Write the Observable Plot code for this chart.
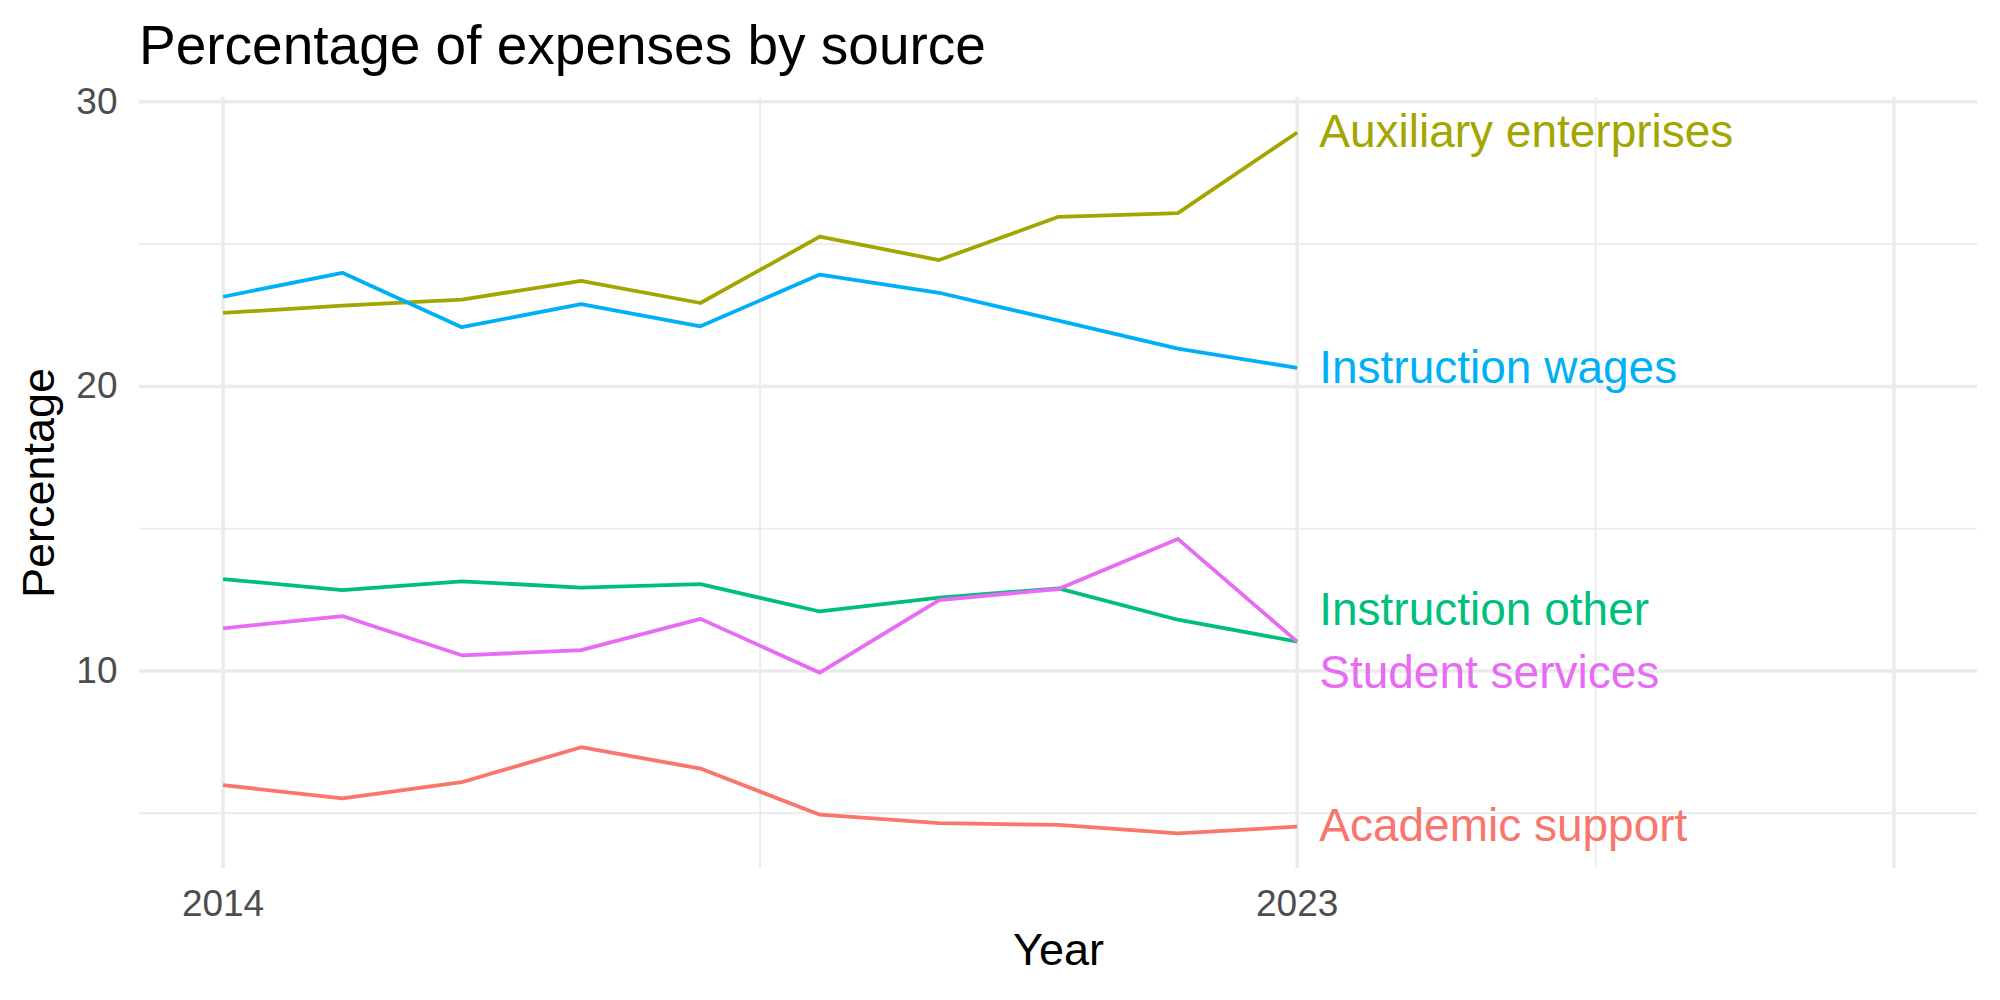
<!DOCTYPE html>
<html>
<head>
<meta charset="utf-8">
<script src="https://cdn.jsdelivr.net/npm/d3@7"></script>
<script src="https://cdn.jsdelivr.net/npm/@observablehq/plot@0.6"></script>
<style>
  html, body { margin: 0; padding: 0; background: #ffffff; }
  #title {
    font-family: "Liberation Sans", Arial, Helvetica, sans-serif;
    font-size: 55px;
    line-height: 55px;
    height: 75px;
    box-sizing: border-box;
    padding-top: 18px;
    padding-left: 139px;
    color: #000000;
    white-space: nowrap;
    overflow: visible;
  }
  #chart svg { display: block; }
</style>
</head>
<body>
<div id="title">Percentage of expenses by source</div>
<div id="chart"></div>
<script>
// Share of expenses per source, 2014–2023 (percent)
const years = [2014, 2015, 2016, 2017, 2018, 2019, 2020, 2021, 2022, 2023];
const seriesNames = ["Academic support", "Auxiliary enterprises", "Instruction other", "Instruction wages", "Student services"];
const academicSupport      = [5.99, 5.52, 6.09, 7.32, 6.57, 4.95, 4.65, 4.59, 4.29, 4.53];
const auxiliaryEnterprises = [22.58, 22.84, 23.05, 23.71, 22.93, 25.26, 24.44, 25.96, 26.09, 28.92];
const instructionOther     = [13.23, 12.84, 13.15, 12.93, 13.05, 12.09, 12.58, 12.90, 11.80, 11.03];
const instructionWages     = [23.15, 23.99, 22.08, 22.89, 22.11, 23.93, 23.29, 22.31, 21.33, 20.65];
const studentServices      = [11.50, 11.93, 10.55, 10.73, 11.83, 9.94, 12.49, 12.88, 14.64, 11.03];
const seriesColors = ["#F8766D", "#A3A500", "#00BF7D", "#00B0F6", "#E76BF3"];

// Axis breaks and limits (x range extended to leave room for end labels)
const xLimits = [2014, 2028];
const xTicks = [2014, 2023];
const xMajorGrid = [2014, 2023, 2028];
const xMinorGrid = [2018.5, 2025.5];
const yTicks = [10, 20, 30];
const yMinorGrid = [5, 15, 25];

const seriesValues = [academicSupport, auxiliaryEnterprises, instructionOther, instructionWages, studentServices];

// Long-format table for the line mark
const rows = [];
seriesNames.forEach((name, i) => {
  years.forEach((year, j) => rows.push({series: name, year, value: seriesValues[i][j]}));
});

// 5% expansion on both axes
const expand = ([a, b]) => { const p = (b - a) * 0.05; return [a - p, b + p]; };
const xDomain = expand(xLimits);
const yDomain = expand(d3.extent(rows, d => d.value));

// Layout of the plotting frame
const width = 2000, height = 925;
const marginTop = 22, marginBottom = 132, marginLeft = 139, marginRight = 23;

// End-of-line labels, nudged apart when they would overlap
const labelGapPx = 63;
const pxPerUnit = (height - marginTop - marginBottom) / (yDomain[1] - yDomain[0]);
const minGap = labelGapPx / pxPerUnit;
const lastYear = years[years.length - 1];
const labels = seriesNames.map((name, i) => {
  const v = seriesValues[i][seriesValues[i].length - 1];
  return {series: name, year: lastYear, value: v, labelY: v};
});
// sort top-to-bottom; ties keep the listed order
const order = labels.slice().sort((a, b) => b.value - a.value || seriesNames.indexOf(a.series) - seriesNames.indexOf(b.series));
for (let pass = 0; pass < 20; pass++) {
  for (let k = 0; k < order.length - 1; k++) {
    const hi = order[k], lo = order[k + 1];
    if (hi.labelY - lo.labelY < minGap) {
      const mid = (hi.labelY + lo.labelY) / 2;
      hi.labelY = mid + minGap / 2;
      lo.labelY = mid - minGap / 2;
    }
  }
}

const gridColor = "#EBEBEB";
const tickColor = "#4D4D4D";

const chart = Plot.plot({
  width, height, marginTop, marginBottom, marginLeft, marginRight,
  style: {fontFamily: "'Liberation Sans', Arial, Helvetica, sans-serif", background: "#ffffff", color: "#000000"},
  x: {domain: xDomain},
  y: {domain: yDomain},
  color: {domain: seriesNames, range: seriesColors},
  marks: [
    Plot.gridX(xMinorGrid, {stroke: gridColor, strokeOpacity: 1, strokeWidth: 1.8}),
    Plot.gridY(yMinorGrid, {stroke: gridColor, strokeOpacity: 1, strokeWidth: 1.8}),
    Plot.gridX(xMajorGrid, {stroke: gridColor, strokeOpacity: 1, strokeWidth: 3.5}),
    Plot.gridY(yTicks, {stroke: gridColor, strokeOpacity: 1, strokeWidth: 3.5}),
    Plot.axisX(xTicks, {tickSize: 0, tickPadding: 21, fontSize: 37, color: tickColor, label: null, tickFormat: d => String(d)}),
    Plot.axisY(yTicks, {tickSize: 0, tickPadding: 22, fontSize: 37, color: tickColor, label: null}),
    Plot.line(rows, {x: "year", y: "value", z: "series", stroke: "series", strokeWidth: 3.8, strokeLinecap: "butt"}),
    Plot.text(labels, {x: "year", y: "labelY", text: "series", fill: "series", textAnchor: "start", lineAnchor: "middle", dx: 22, fontSize: 46}),
    Plot.text(["Year"], {frameAnchor: "bottom", lineAnchor: "top", dy: 65, fontSize: 45, fill: "#000000"}),
    Plot.text(["Percentage"], {frameAnchor: "left", rotate: -90, lineAnchor: "middle", textAnchor: "middle", dx: -100, fontSize: 45, fill: "#000000"})
  ]
});

document.getElementById("chart").appendChild(chart);
</script>
</body>
</html>
